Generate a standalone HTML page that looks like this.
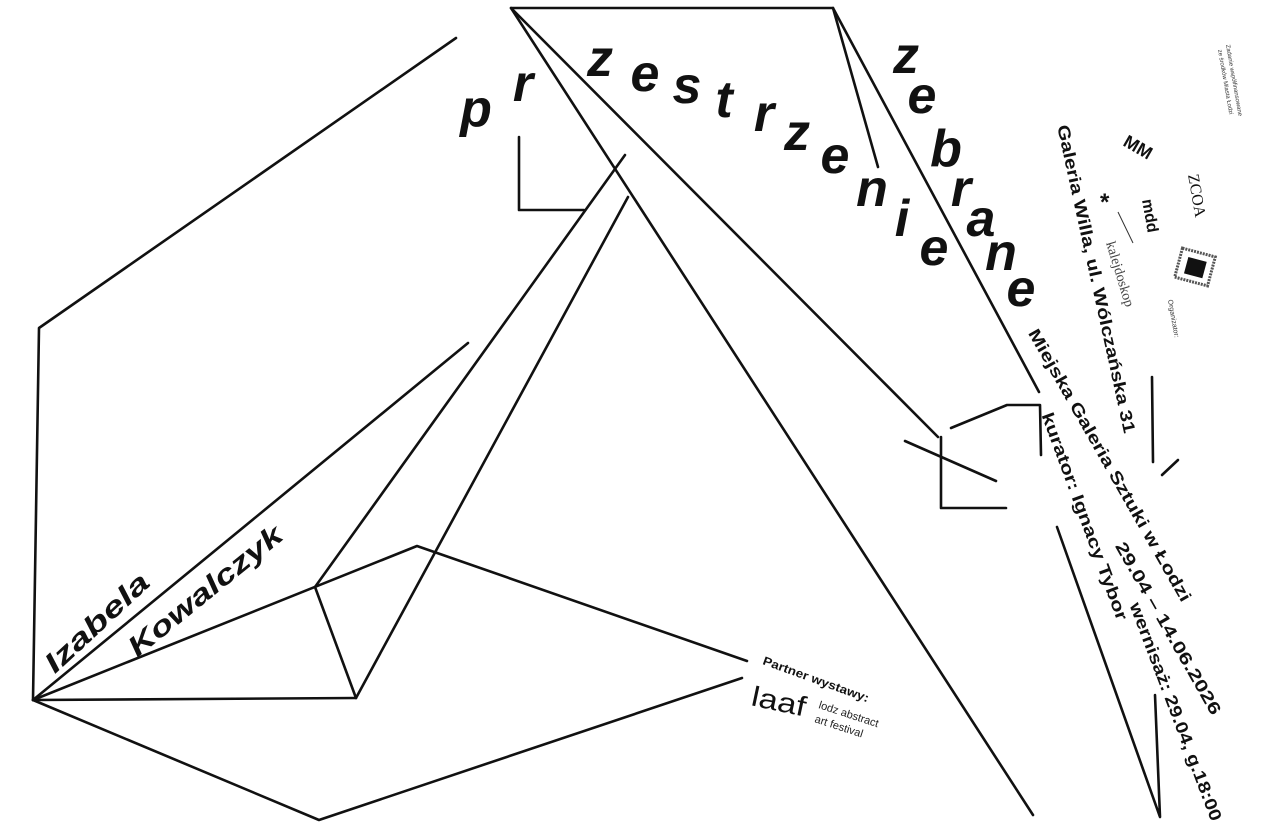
<!DOCTYPE html>
<html><head><meta charset="utf-8"><style>
html,body{margin:0;padding:0;background:#fff;}
svg{display:block;}
.L{font-family:"Liberation Sans",sans-serif;font-weight:bold;font-style:italic;font-size:52px;fill:#111;}
.R{font-family:"Liberation Sans",sans-serif;font-weight:bold;font-size:17px;fill:#111;}
</style></head><body>
<svg width="1280" height="832" viewBox="0 0 1280 832" xmlns="http://www.w3.org/2000/svg">
<g stroke="#111" stroke-width="2.6" fill="none" stroke-linecap="round" stroke-linejoin="round">
<polyline points="1033,815 511,8 833,8 1039,392"/>
<line x1="511" y1="8" x2="938" y2="437"/>
<line x1="833" y1="8" x2="878" y2="167"/>
<polyline points="519,137 519,210 584,210"/>
<polyline points="456,38 39,328 33,700"/>
<line x1="33" y1="700" x2="468" y2="343"/>
<polyline points="625,155 315,587 356,698 628,197"/>
<line x1="33" y1="700" x2="356" y2="698"/>
<polyline points="33,700 417,546 747,661"/>
<polyline points="33,700 319,820 742,678"/>
<polyline points="941,437 941,508 1006,508"/>
<line x1="905" y1="441" x2="996" y2="481"/>
<polyline points="951,428 1007,405 1040,405 1041,455"/>
<line x1="1152" y1="377" x2="1153" y2="462"/>
<line x1="1162" y1="475" x2="1178" y2="460"/>
<polyline points="1057,527 1160,817 1155,695"/>
</g>
<g class="L" text-anchor="middle">
<text x="476" y="126">p</text>
<text x="523" y="101">r</text>
<text x="600" y="76">z</text>
<text x="645" y="91">e</text>
<text x="687" y="103">s</text>
<text x="724" y="117">t</text>
<text x="764" y="131">r</text>
<text x="797" y="150">z</text>
<text x="835" y="173">e</text>
<text x="872" y="206">n</text>
<text x="902" y="236">i</text>
<text x="934" y="265">e</text>
<text x="906" y="73">z</text>
<text x="922" y="113">e</text>
<text x="946" y="166">b</text>
<text x="961" y="206">r</text>
<text x="981" y="236">a</text>
<text x="1001" y="270">n</text>
<text x="1021" y="306">e</text>
</g>
<text class="R" style="font-style:italic;font-size:28px" x="48" y="667" dy="10" textLength="132" lengthAdjust="spacingAndGlyphs" transform="rotate(-42.9 48 667)">Izabela</text>
<text class="R" style="font-style:italic;font-size:28px" x="131" y="650" dy="10" textLength="190" lengthAdjust="spacingAndGlyphs" transform="rotate(-39 131 650)">Kowalczyk</text>
<text class="R" x="1063" y="125" dy="6" textLength="315" lengthAdjust="spacingAndGlyphs" transform="rotate(77.7 1063 125)">Galeria Willa, ul. Wólczańska 31</text>
<text class="R" x="1033" y="330" dy="6" textLength="311" lengthAdjust="spacingAndGlyphs" transform="rotate(60.3 1033 330)">Miejska Galeria Sztuki w Łodzi</text>
<text class="R" x="1047" y="413" dy="6" textLength="220" lengthAdjust="spacingAndGlyphs" transform="rotate(69.8 1047 413)">kurator: Ignacy Tybor</text>
<text class="R" x="1120" y="543" dy="6" textLength="196" lengthAdjust="spacingAndGlyphs" transform="rotate(60.3 1120 543)">29.04 – 14.06.2026</text>
<text class="R" x="1135" y="603" dy="6" textLength="232" lengthAdjust="spacingAndGlyphs" transform="rotate(69.3 1135 603)">wernisaż: 29.04, g.18:00</text>
<text class="R" style="font-size:12px" x="762" y="664" textLength="112" lengthAdjust="spacingAndGlyphs" transform="rotate(20 762 664)">Partner wystawy:</text>
<text style="font-family:'Liberation Sans',sans-serif;font-size:28px;fill:#111" x="750" y="705" textLength="55" lengthAdjust="spacingAndGlyphs" transform="rotate(12 750 705)">laaf</text>
<text style="font-family:'Liberation Sans',sans-serif;font-size:11px;fill:#222" x="818" y="708" transform="rotate(18 818 708)">lodz abstract</text>
<text style="font-family:'Liberation Sans',sans-serif;font-size:11px;fill:#222" x="814" y="722" transform="rotate(18 814 722)">art festival</text>
<text style="font-family:'Liberation Sans',sans-serif;font-size:6px;fill:#333" x="1226" y="45" transform="rotate(80 1226 45)">Zadanie współfinansowane</text>
<text style="font-family:'Liberation Sans',sans-serif;font-size:6px;fill:#333" x="1218" y="50" transform="rotate(80 1218 50)">ze środków Miasta Łodzi</text>
<text style="font-family:'Liberation Sans',sans-serif;font-weight:bold;font-size:18px;fill:#111" x="1122" y="145" transform="rotate(30 1122 145)">MM</text>
<text style="font-family:'Liberation Sans',sans-serif;font-weight:bold;font-size:24px;fill:#111" x="1100" y="210">*</text>
<text style="font-family:'Liberation Sans',sans-serif;font-weight:bold;font-size:16px;fill:#111" x="1142" y="200" transform="rotate(80 1142 200)">mdd</text>
<text style="font-family:'Liberation Serif',serif;font-size:16px;fill:#111" x="1188" y="175" transform="rotate(80 1188 175)">ZCOA</text>
<text style="font-family:'Liberation Serif',serif;font-size:14px;fill:#444" x="1106" y="243" transform="rotate(73 1106 243)">kalejdoskop</text>
<line x1="1118" y1="212" x2="1133" y2="243" stroke="#333" stroke-width="1"/>
<rect x="1178" y="252" width="34" height="30" fill="#fff" stroke="#555" stroke-width="3" stroke-dasharray="2 1" transform="rotate(15 1195 267)"/>
<rect x="1186" y="259" width="19" height="17" fill="#111" transform="rotate(15 1195 267)"/>
<text style="font-family:'Liberation Sans',sans-serif;font-size:7px;fill:#333" x="1168" y="300" transform="rotate(80 1168 300)">Organizator:</text>
</svg>
</body></html>
